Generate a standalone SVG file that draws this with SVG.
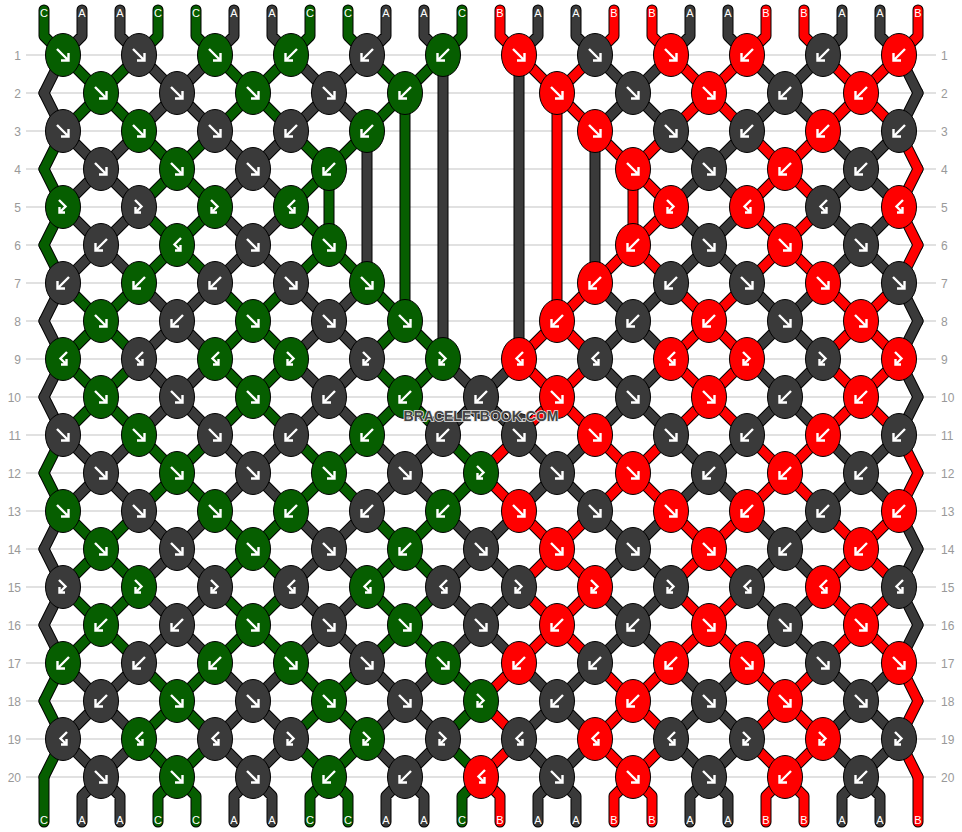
<svg xmlns="http://www.w3.org/2000/svg" xmlns:xlink="http://www.w3.org/1999/xlink" width="962" height="832" viewBox="0 0 962 832">
<style>
.grid line{stroke:#c4c4c4;stroke-width:1.2}
.rl{font-family:"Liberation Sans",Arial,sans-serif;font-size:12px;fill:#999}
.sl{font-family:"Liberation Sans",Arial,sans-serif;font-size:11px;fill:#fff;text-anchor:middle}
.o{stroke:#000;stroke-width:11}
.sg{stroke:#065e00;stroke-width:9}
.sd{stroke:#3a3a3a;stroke-width:9}
.sr{stroke:#ff0000;stroke-width:9}
.kg{fill:#065e00}
.kd{fill:#3a3a3a}
.kr{fill:#ff0000}
.wm{font-family:"Liberation Sans",Arial,sans-serif;font-weight:bold;font-size:15px;fill:#444;stroke:#e8e8e8;stroke-width:1.6;paint-order:stroke;text-anchor:middle}
</style>
<defs>
<path id="u1" d="M63 0L44 38M139 0L177 38M215 0L177 38M291 0L329 38"/>
<path id="u2" d="M63 0L101 38M139 0L101 38M215 0L253 38M291 0L253 38"/>
<path id="u3" d="M671 0L633 38M747 0L785 38M823 0L785 38M899 0L918 38"/>
<path id="u4" d="M671 0L709 38M747 0L709 38M823 0L861 38M899 0L861 38"/>
<path id="um1" d="M367 0L329 38M443 0L481 38"/>
<path id="um2" d="M367 0L405 38M443 0L405 38"/>
<path id="um3" d="M519 0L481 38M595 0L633 38"/>
<path id="um4" d="M519 0L557 38M595 0L557 38"/>
<path id="v1" d="M44 0L63 38M177 0L139 38M177 0L215 38M329 0L291 38"/>
<path id="v2" d="M101 0L63 38M101 0L139 38M253 0L215 38M253 0L291 38"/>
<path id="v3" d="M633 0L671 38M785 0L747 38M785 0L823 38M918 0L899 38"/>
<path id="v4" d="M709 0L671 38M709 0L747 38M861 0L823 38M861 0L899 38"/>
<path id="vm1" d="M329 0L367 38M481 0L443 38"/>
<path id="vm2" d="M405 0L367 38M405 0L443 38"/>
<path id="vm3" d="M481 0L519 38M633 0L595 38"/>
<path id="vm4" d="M557 0L519 38M557 0L595 38"/>
<g id="U1"><use href="#u1"/><use href="#um1"/></g>
<g id="U2"><use href="#u2"/><use href="#um2"/></g>
<g id="U3"><use href="#u3"/><use href="#um3"/></g>
<g id="U4"><use href="#u4"/><use href="#um4"/></g>
<g id="V1"><use href="#v1"/><use href="#vm1"/></g>
<g id="V2"><use href="#v2"/><use href="#vm2"/></g>
<g id="V3"><use href="#v3"/><use href="#vm3"/></g>
<g id="V4"><use href="#v4"/><use href="#vm4"/></g>
<g id="UO"><use href="#u1"/><use href="#u2"/><use href="#u3"/><use href="#u4"/></g>
<g id="VO"><use href="#v1"/><use href="#v2"/><use href="#v3"/><use href="#v4"/></g>
<g id="UA"><use href="#U1"/><use href="#U2"/><use href="#U3"/><use href="#U4"/></g>
<g id="VA"><use href="#V1"/><use href="#V2"/><use href="#V3"/><use href="#V4"/></g>
<path id="gapG" d="M367 55L405 93M443 55L405 93M405 93L405 321M405 93L367 131M367 131L329 169M329 169L329 245M329 245L367 283M367 283L405 321M405 321L367 359M405 321L443 359"/>
<path id="gapD" d="M367 55L329 93M443 55L443 359M519 55L519 359M595 55L633 93M329 93L367 131M633 93L595 131M367 131L367 283M595 131L595 283M367 283L329 321M595 283L633 321M329 321L367 359M633 321L595 359"/>
<path id="gapR" d="M519 55L557 93M595 55L557 93M557 93L557 321M557 93L595 131M595 131L633 169M633 169L633 245M633 245L595 283M595 283L557 321M557 321L519 359M557 321L595 359"/>
<path id="topG" d="M44 10V36L63 55M158 10V36L139 55M196 10V36L215 55M310 10V36L291 55M348 10V36L367 55M462 10V36L443 55"/>
<path id="topD" d="M82 10V36L63 55M120 10V36L139 55M234 10V36L215 55M272 10V36L291 55M386 10V36L367 55M424 10V36L443 55M538 10V36L519 55M576 10V36L595 55M690 10V36L671 55M728 10V36L747 55M842 10V36L823 55M880 10V36L899 55"/>
<path id="topR" d="M500 10V36L519 55M614 10V36L595 55M652 10V36L671 55M766 10V36L747 55M804 10V36L823 55M918 10V36L899 55"/>
<path id="botG" d="M44 777V822M177 777L158 796V822M177 777L196 796V822M329 777L310 796V822M329 777L348 796V822M481 777L462 796V822"/>
<path id="botD" d="M101 777L82 796V822M101 777L120 796V822M253 777L234 796V822M253 777L272 796V822M405 777L386 796V822M405 777L424 796V822M557 777L538 796V822M557 777L576 796V822M709 777L690 796V822M709 777L728 796V822M861 777L842 796V822M861 777L880 796V822"/>
<path id="botR" d="M481 777L500 796V822M633 777L614 796V822M633 777L652 796V822M785 777L766 796V822M785 777L804 796V822M918 777V822"/>
<g id="F"><ellipse rx="17.5" ry="21.5" stroke="#000" stroke-width="1"/><path d="M-6-6L5.5 5.5M5.5-2V5.5H-2" fill="none" stroke="#fff" stroke-width="2.4"/></g>
<g id="B"><ellipse rx="17.5" ry="21.5" stroke="#000" stroke-width="1"/><path d="M6-6L-5.5 5.5M-5.5-2V5.5H2" fill="none" stroke="#fff" stroke-width="2.4"/></g>
<g id="FB"><ellipse rx="17.5" ry="21.5" stroke="#000" stroke-width="1"/><path d="M-4-7L2.5-0.5L-3.5 5.5M-3.5 0V5.5H2" fill="none" stroke="#fff" stroke-width="2.4"/></g>
<g id="BF"><ellipse rx="17.5" ry="21.5" stroke="#000" stroke-width="1"/><path d="M4-7L-2.5-0.5L3.5 5.5M3.5 0V5.5H-2" fill="none" stroke="#fff" stroke-width="2.4"/></g>
</defs>
<rect width="962" height="832" fill="#fff"/>
<g class="grid">
<line x1="26" y1="55" x2="936" y2="55"/><line x1="26" y1="93" x2="936" y2="93"/><line x1="26" y1="131" x2="936" y2="131"/><line x1="26" y1="169" x2="936" y2="169"/><line x1="26" y1="207" x2="936" y2="207"/><line x1="26" y1="245" x2="936" y2="245"/><line x1="26" y1="283" x2="936" y2="283"/><line x1="26" y1="321" x2="936" y2="321"/><line x1="26" y1="359" x2="936" y2="359"/><line x1="26" y1="397" x2="936" y2="397"/><line x1="26" y1="435" x2="936" y2="435"/><line x1="26" y1="473" x2="936" y2="473"/><line x1="26" y1="511" x2="936" y2="511"/><line x1="26" y1="549" x2="936" y2="549"/><line x1="26" y1="587" x2="936" y2="587"/><line x1="26" y1="625" x2="936" y2="625"/><line x1="26" y1="663" x2="936" y2="663"/><line x1="26" y1="701" x2="936" y2="701"/><line x1="26" y1="739" x2="936" y2="739"/><line x1="26" y1="777" x2="936" y2="777"/>
</g>
<g id="row-labels" class="rl">
<g text-anchor="end">
<text x="21" y="59.5">1</text><text x="21" y="97.5">2</text><text x="21" y="135.5">3</text><text x="21" y="173.5">4</text><text x="21" y="211.5">5</text><text x="21" y="249.5">6</text><text x="21" y="287.5">7</text><text x="21" y="325.5">8</text><text x="21" y="363.5">9</text><text x="21" y="401.5">10</text><text x="21" y="439.5">11</text><text x="21" y="477.5">12</text><text x="21" y="515.5">13</text><text x="21" y="553.5">14</text><text x="21" y="591.5">15</text><text x="21" y="629.5">16</text><text x="21" y="667.5">17</text><text x="21" y="705.5">18</text><text x="21" y="743.5">19</text><text x="21" y="781.5">20</text>
</g>
<g text-anchor="start">
<text x="941" y="59.5">1</text><text x="941" y="97.5">2</text><text x="941" y="135.5">3</text><text x="941" y="173.5">4</text><text x="941" y="211.5">5</text><text x="941" y="249.5">6</text><text x="941" y="287.5">7</text><text x="941" y="325.5">8</text><text x="941" y="363.5">9</text><text x="941" y="401.5">10</text><text x="941" y="439.5">11</text><text x="941" y="477.5">12</text><text x="941" y="515.5">13</text><text x="941" y="553.5">14</text><text x="941" y="591.5">15</text><text x="941" y="629.5">16</text><text x="941" y="667.5">17</text><text x="941" y="705.5">18</text><text x="941" y="743.5">19</text><text x="941" y="781.5">20</text>
</g>
</g>
<g id="connectors" fill="none" stroke-linecap="round" stroke-linejoin="round">
<g class="o">
<use href="#topG"/><use href="#topD"/><use href="#topR"/>
<use href="#UO" y="55"/><use href="#VO" y="93"/><use href="#UO" y="131"/><use href="#VO" y="169"/><use href="#UO" y="207"/><use href="#VO" y="245"/><use href="#UO" y="283"/><use href="#VO" y="321"/>
<use href="#gapG"/><use href="#gapD"/><use href="#gapR"/>
<use href="#UA" y="359"/><use href="#VA" y="397"/><use href="#UA" y="435"/><use href="#VA" y="473"/><use href="#UA" y="511"/><use href="#VA" y="549"/><use href="#UA" y="587"/><use href="#VA" y="625"/><use href="#UA" y="663"/><use href="#VA" y="701"/><use href="#UA" y="739"/>
<use href="#botG"/><use href="#botD"/><use href="#botR"/>
</g>
<g class="sd">
<use href="#topD"/><use href="#botD"/><use href="#gapD"/>
<use href="#u1" y="55"/><use href="#u3" y="55"/>
<use href="#v1" y="93"/><use href="#v3" y="93"/>
<use href="#u2" y="131"/><use href="#u4" y="131"/>
<use href="#v2" y="169"/><use href="#v4" y="169"/>
<use href="#u2" y="207"/><use href="#u4" y="207"/>
<use href="#v2" y="245"/><use href="#v4" y="245"/>
<use href="#u1" y="283"/><use href="#u3" y="283"/>
<use href="#v1" y="321"/><use href="#v3" y="321"/>
<use href="#U1" y="359"/><use href="#U3" y="359"/>
<use href="#V1" y="397"/><use href="#V3" y="397"/>
<use href="#U2" y="435"/><use href="#U4" y="435"/>
<use href="#V2" y="473"/><use href="#V4" y="473"/>
<use href="#U1" y="511"/><use href="#U3" y="511"/>
<use href="#V1" y="549"/><use href="#V3" y="549"/>
<use href="#U1" y="587"/><use href="#U3" y="587"/>
<use href="#V1" y="625"/><use href="#V3" y="625"/>
<use href="#U2" y="663"/><use href="#U4" y="663"/>
<use href="#V2" y="701"/><use href="#V4" y="701"/>
<use href="#U2" y="739"/><use href="#U4" y="739"/>
</g>
<g class="sg">
<use href="#topG"/><use href="#botG"/><use href="#gapG"/>
<use href="#u2" y="55"/><use href="#v2" y="93"/><use href="#u1" y="131"/><use href="#v1" y="169"/><use href="#u1" y="207"/><use href="#v1" y="245"/><use href="#u2" y="283"/><use href="#v2" y="321"/>
<use href="#U2" y="359"/><use href="#V2" y="397"/><use href="#U1" y="435"/><use href="#V1" y="473"/><use href="#U2" y="511"/><use href="#V2" y="549"/><use href="#U2" y="587"/><use href="#V2" y="625"/><use href="#U1" y="663"/><use href="#V1" y="701"/><use href="#U1" y="739"/>
</g>
<g class="sr">
<use href="#topR"/><use href="#botR"/><use href="#gapR"/>
<use href="#u4" y="55"/><use href="#v4" y="93"/><use href="#u3" y="131"/><use href="#v3" y="169"/><use href="#u3" y="207"/><use href="#v3" y="245"/><use href="#u4" y="283"/><use href="#v4" y="321"/>
<use href="#U4" y="359"/><use href="#V4" y="397"/><use href="#U3" y="435"/><use href="#V3" y="473"/><use href="#U4" y="511"/><use href="#V4" y="549"/><use href="#U4" y="587"/><use href="#V4" y="625"/><use href="#U3" y="663"/><use href="#V3" y="701"/><use href="#U3" y="739"/>
</g>
</g>
<g id="string-labels" class="sl">
<text x="44" y="16.5">C</text><text x="82" y="16.5">A</text><text x="120" y="16.5">A</text><text x="158" y="16.5">C</text><text x="196" y="16.5">C</text><text x="234" y="16.5">A</text><text x="272" y="16.5">A</text><text x="310" y="16.5">C</text><text x="348" y="16.5">C</text><text x="386" y="16.5">A</text><text x="424" y="16.5">A</text><text x="462" y="16.5">C</text><text x="500" y="16.5">B</text><text x="538" y="16.5">A</text><text x="576" y="16.5">A</text><text x="614" y="16.5">B</text><text x="652" y="16.5">B</text><text x="690" y="16.5">A</text><text x="728" y="16.5">A</text><text x="766" y="16.5">B</text><text x="804" y="16.5">B</text><text x="842" y="16.5">A</text><text x="880" y="16.5">A</text><text x="918" y="16.5">B</text>
<text x="44" y="824">C</text><text x="82" y="824">A</text><text x="120" y="824">A</text><text x="158" y="824">C</text><text x="196" y="824">C</text><text x="234" y="824">A</text><text x="272" y="824">A</text><text x="310" y="824">C</text><text x="348" y="824">C</text><text x="386" y="824">A</text><text x="424" y="824">A</text><text x="462" y="824">C</text><text x="500" y="824">B</text><text x="538" y="824">A</text><text x="576" y="824">A</text><text x="614" y="824">B</text><text x="652" y="824">B</text><text x="690" y="824">A</text><text x="728" y="824">A</text><text x="766" y="824">B</text><text x="804" y="824">B</text><text x="842" y="824">A</text><text x="880" y="824">A</text><text x="918" y="824">B</text>
</g>
<g id="knots">
<g id="k1_63" class="kg"><use href="#F" x="63" y="55"/></g>
<g id="k1_139" class="kd"><use href="#F" x="139" y="55"/></g>
<g id="k1_215" class="kg"><use href="#F" x="215" y="55"/></g>
<g id="k1_291" class="kg"><use href="#B" x="291" y="55"/></g>
<g id="k1_367" class="kd"><use href="#B" x="367" y="55"/></g>
<g id="k1_443" class="kg"><use href="#B" x="443" y="55"/></g>
<g id="k1_519" class="kr"><use href="#F" x="519" y="55"/></g>
<g id="k1_595" class="kd"><use href="#F" x="595" y="55"/></g>
<g id="k1_671" class="kr"><use href="#F" x="671" y="55"/></g>
<g id="k1_747" class="kr"><use href="#B" x="747" y="55"/></g>
<g id="k1_823" class="kd"><use href="#B" x="823" y="55"/></g>
<g id="k1_899" class="kr"><use href="#B" x="899" y="55"/></g>
<g id="k2_101" class="kg"><use href="#F" x="101" y="93"/></g>
<g id="k2_177" class="kd"><use href="#F" x="177" y="93"/></g>
<g id="k2_253" class="kg"><use href="#F" x="253" y="93"/></g>
<g id="k2_329" class="kd"><use href="#F" x="329" y="93"/></g>
<g id="k2_405" class="kg"><use href="#B" x="405" y="93"/></g>
<g id="k2_557" class="kr"><use href="#F" x="557" y="93"/></g>
<g id="k2_633" class="kd"><use href="#F" x="633" y="93"/></g>
<g id="k2_709" class="kr"><use href="#F" x="709" y="93"/></g>
<g id="k2_785" class="kd"><use href="#B" x="785" y="93"/></g>
<g id="k2_861" class="kr"><use href="#B" x="861" y="93"/></g>
<g id="k3_63" class="kd"><use href="#F" x="63" y="131"/></g>
<g id="k3_139" class="kg"><use href="#F" x="139" y="131"/></g>
<g id="k3_215" class="kd"><use href="#F" x="215" y="131"/></g>
<g id="k3_291" class="kd"><use href="#B" x="291" y="131"/></g>
<g id="k3_367" class="kg"><use href="#B" x="367" y="131"/></g>
<g id="k3_595" class="kr"><use href="#F" x="595" y="131"/></g>
<g id="k3_671" class="kd"><use href="#F" x="671" y="131"/></g>
<g id="k3_747" class="kd"><use href="#B" x="747" y="131"/></g>
<g id="k3_823" class="kr"><use href="#B" x="823" y="131"/></g>
<g id="k3_899" class="kd"><use href="#B" x="899" y="131"/></g>
<g id="k4_101" class="kd"><use href="#F" x="101" y="169"/></g>
<g id="k4_177" class="kg"><use href="#F" x="177" y="169"/></g>
<g id="k4_253" class="kd"><use href="#F" x="253" y="169"/></g>
<g id="k4_329" class="kg"><use href="#B" x="329" y="169"/></g>
<g id="k4_633" class="kr"><use href="#F" x="633" y="169"/></g>
<g id="k4_709" class="kd"><use href="#F" x="709" y="169"/></g>
<g id="k4_785" class="kr"><use href="#B" x="785" y="169"/></g>
<g id="k4_861" class="kd"><use href="#B" x="861" y="169"/></g>
<g id="k5_63" class="kg"><use href="#FB" x="63" y="207"/></g>
<g id="k5_139" class="kd"><use href="#FB" x="139" y="207"/></g>
<g id="k5_215" class="kg"><use href="#FB" x="215" y="207"/></g>
<g id="k5_291" class="kg"><use href="#BF" x="291" y="207"/></g>
<g id="k5_671" class="kr"><use href="#FB" x="671" y="207"/></g>
<g id="k5_747" class="kr"><use href="#BF" x="747" y="207"/></g>
<g id="k5_823" class="kd"><use href="#BF" x="823" y="207"/></g>
<g id="k5_899" class="kr"><use href="#BF" x="899" y="207"/></g>
<g id="k6_101" class="kd"><use href="#B" x="101" y="245"/></g>
<g id="k6_177" class="kg"><use href="#BF" x="177" y="245"/></g>
<g id="k6_253" class="kd"><use href="#F" x="253" y="245"/></g>
<g id="k6_329" class="kg"><use href="#F" x="329" y="245"/></g>
<g id="k6_633" class="kr"><use href="#B" x="633" y="245"/></g>
<g id="k6_709" class="kd"><use href="#F" x="709" y="245"/></g>
<g id="k6_785" class="kr"><use href="#F" x="785" y="245"/></g>
<g id="k6_861" class="kd"><use href="#F" x="861" y="245"/></g>
<g id="k7_63" class="kd"><use href="#B" x="63" y="283"/></g>
<g id="k7_139" class="kg"><use href="#B" x="139" y="283"/></g>
<g id="k7_215" class="kd"><use href="#B" x="215" y="283"/></g>
<g id="k7_291" class="kd"><use href="#F" x="291" y="283"/></g>
<g id="k7_367" class="kg"><use href="#F" x="367" y="283"/></g>
<g id="k7_595" class="kr"><use href="#B" x="595" y="283"/></g>
<g id="k7_671" class="kd"><use href="#B" x="671" y="283"/></g>
<g id="k7_747" class="kd"><use href="#F" x="747" y="283"/></g>
<g id="k7_823" class="kr"><use href="#F" x="823" y="283"/></g>
<g id="k7_899" class="kd"><use href="#F" x="899" y="283"/></g>
<g id="k8_101" class="kg"><use href="#F" x="101" y="321"/></g>
<g id="k8_177" class="kd"><use href="#B" x="177" y="321"/></g>
<g id="k8_253" class="kg"><use href="#F" x="253" y="321"/></g>
<g id="k8_329" class="kd"><use href="#F" x="329" y="321"/></g>
<g id="k8_405" class="kg"><use href="#F" x="405" y="321"/></g>
<g id="k8_557" class="kr"><use href="#B" x="557" y="321"/></g>
<g id="k8_633" class="kd"><use href="#B" x="633" y="321"/></g>
<g id="k8_709" class="kr"><use href="#B" x="709" y="321"/></g>
<g id="k8_785" class="kd"><use href="#F" x="785" y="321"/></g>
<g id="k8_861" class="kr"><use href="#F" x="861" y="321"/></g>
<g id="k9_63" class="kg"><use href="#BF" x="63" y="359"/></g>
<g id="k9_139" class="kd"><use href="#BF" x="139" y="359"/></g>
<g id="k9_215" class="kg"><use href="#BF" x="215" y="359"/></g>
<g id="k9_291" class="kg"><use href="#FB" x="291" y="359"/></g>
<g id="k9_367" class="kd"><use href="#FB" x="367" y="359"/></g>
<g id="k9_443" class="kg"><use href="#FB" x="443" y="359"/></g>
<g id="k9_519" class="kr"><use href="#BF" x="519" y="359"/></g>
<g id="k9_595" class="kd"><use href="#BF" x="595" y="359"/></g>
<g id="k9_671" class="kr"><use href="#BF" x="671" y="359"/></g>
<g id="k9_747" class="kr"><use href="#FB" x="747" y="359"/></g>
<g id="k9_823" class="kd"><use href="#FB" x="823" y="359"/></g>
<g id="k9_899" class="kr"><use href="#FB" x="899" y="359"/></g>
<g id="k10_101" class="kg"><use href="#F" x="101" y="397"/></g>
<g id="k10_177" class="kd"><use href="#F" x="177" y="397"/></g>
<g id="k10_253" class="kg"><use href="#F" x="253" y="397"/></g>
<g id="k10_329" class="kd"><use href="#B" x="329" y="397"/></g>
<g id="k10_405" class="kg"><use href="#B" x="405" y="397"/></g>
<g id="k10_481" class="kd"><use href="#B" x="481" y="397"/></g>
<g id="k10_557" class="kr"><use href="#F" x="557" y="397"/></g>
<g id="k10_633" class="kd"><use href="#F" x="633" y="397"/></g>
<g id="k10_709" class="kr"><use href="#F" x="709" y="397"/></g>
<g id="k10_785" class="kd"><use href="#B" x="785" y="397"/></g>
<g id="k10_861" class="kr"><use href="#B" x="861" y="397"/></g>
<g id="k11_63" class="kd"><use href="#F" x="63" y="435"/></g>
<g id="k11_139" class="kg"><use href="#F" x="139" y="435"/></g>
<g id="k11_215" class="kd"><use href="#F" x="215" y="435"/></g>
<g id="k11_291" class="kd"><use href="#B" x="291" y="435"/></g>
<g id="k11_367" class="kg"><use href="#B" x="367" y="435"/></g>
<g id="k11_443" class="kd"><use href="#B" x="443" y="435"/></g>
<g id="k11_519" class="kd"><use href="#F" x="519" y="435"/></g>
<g id="k11_595" class="kr"><use href="#F" x="595" y="435"/></g>
<g id="k11_671" class="kd"><use href="#F" x="671" y="435"/></g>
<g id="k11_747" class="kd"><use href="#B" x="747" y="435"/></g>
<g id="k11_823" class="kr"><use href="#B" x="823" y="435"/></g>
<g id="k11_899" class="kd"><use href="#B" x="899" y="435"/></g>
<g id="k12_101" class="kd"><use href="#F" x="101" y="473"/></g>
<g id="k12_177" class="kg"><use href="#F" x="177" y="473"/></g>
<g id="k12_253" class="kd"><use href="#F" x="253" y="473"/></g>
<g id="k12_329" class="kg"><use href="#F" x="329" y="473"/></g>
<g id="k12_405" class="kd"><use href="#F" x="405" y="473"/></g>
<g id="k12_481" class="kg"><use href="#FB" x="481" y="473"/></g>
<g id="k12_557" class="kd"><use href="#F" x="557" y="473"/></g>
<g id="k12_633" class="kr"><use href="#F" x="633" y="473"/></g>
<g id="k12_709" class="kd"><use href="#B" x="709" y="473"/></g>
<g id="k12_785" class="kr"><use href="#B" x="785" y="473"/></g>
<g id="k12_861" class="kd"><use href="#B" x="861" y="473"/></g>
<g id="k13_63" class="kg"><use href="#F" x="63" y="511"/></g>
<g id="k13_139" class="kd"><use href="#F" x="139" y="511"/></g>
<g id="k13_215" class="kg"><use href="#F" x="215" y="511"/></g>
<g id="k13_291" class="kg"><use href="#B" x="291" y="511"/></g>
<g id="k13_367" class="kd"><use href="#B" x="367" y="511"/></g>
<g id="k13_443" class="kg"><use href="#B" x="443" y="511"/></g>
<g id="k13_519" class="kr"><use href="#F" x="519" y="511"/></g>
<g id="k13_595" class="kd"><use href="#F" x="595" y="511"/></g>
<g id="k13_671" class="kr"><use href="#F" x="671" y="511"/></g>
<g id="k13_747" class="kr"><use href="#B" x="747" y="511"/></g>
<g id="k13_823" class="kd"><use href="#B" x="823" y="511"/></g>
<g id="k13_899" class="kr"><use href="#B" x="899" y="511"/></g>
<g id="k14_101" class="kg"><use href="#F" x="101" y="549"/></g>
<g id="k14_177" class="kd"><use href="#F" x="177" y="549"/></g>
<g id="k14_253" class="kg"><use href="#F" x="253" y="549"/></g>
<g id="k14_329" class="kd"><use href="#F" x="329" y="549"/></g>
<g id="k14_405" class="kg"><use href="#B" x="405" y="549"/></g>
<g id="k14_481" class="kd"><use href="#F" x="481" y="549"/></g>
<g id="k14_557" class="kr"><use href="#F" x="557" y="549"/></g>
<g id="k14_633" class="kd"><use href="#F" x="633" y="549"/></g>
<g id="k14_709" class="kr"><use href="#F" x="709" y="549"/></g>
<g id="k14_785" class="kd"><use href="#B" x="785" y="549"/></g>
<g id="k14_861" class="kr"><use href="#B" x="861" y="549"/></g>
<g id="k15_63" class="kd"><use href="#FB" x="63" y="587"/></g>
<g id="k15_139" class="kg"><use href="#FB" x="139" y="587"/></g>
<g id="k15_215" class="kd"><use href="#FB" x="215" y="587"/></g>
<g id="k15_291" class="kd"><use href="#BF" x="291" y="587"/></g>
<g id="k15_367" class="kg"><use href="#BF" x="367" y="587"/></g>
<g id="k15_443" class="kd"><use href="#BF" x="443" y="587"/></g>
<g id="k15_519" class="kd"><use href="#FB" x="519" y="587"/></g>
<g id="k15_595" class="kr"><use href="#FB" x="595" y="587"/></g>
<g id="k15_671" class="kd"><use href="#FB" x="671" y="587"/></g>
<g id="k15_747" class="kd"><use href="#BF" x="747" y="587"/></g>
<g id="k15_823" class="kr"><use href="#BF" x="823" y="587"/></g>
<g id="k15_899" class="kd"><use href="#BF" x="899" y="587"/></g>
<g id="k16_101" class="kg"><use href="#B" x="101" y="625"/></g>
<g id="k16_177" class="kd"><use href="#B" x="177" y="625"/></g>
<g id="k16_253" class="kg"><use href="#F" x="253" y="625"/></g>
<g id="k16_329" class="kd"><use href="#F" x="329" y="625"/></g>
<g id="k16_405" class="kg"><use href="#F" x="405" y="625"/></g>
<g id="k16_481" class="kd"><use href="#F" x="481" y="625"/></g>
<g id="k16_557" class="kr"><use href="#B" x="557" y="625"/></g>
<g id="k16_633" class="kd"><use href="#B" x="633" y="625"/></g>
<g id="k16_709" class="kr"><use href="#F" x="709" y="625"/></g>
<g id="k16_785" class="kd"><use href="#F" x="785" y="625"/></g>
<g id="k16_861" class="kr"><use href="#F" x="861" y="625"/></g>
<g id="k17_63" class="kg"><use href="#B" x="63" y="663"/></g>
<g id="k17_139" class="kd"><use href="#B" x="139" y="663"/></g>
<g id="k17_215" class="kg"><use href="#B" x="215" y="663"/></g>
<g id="k17_291" class="kg"><use href="#F" x="291" y="663"/></g>
<g id="k17_367" class="kd"><use href="#F" x="367" y="663"/></g>
<g id="k17_443" class="kg"><use href="#F" x="443" y="663"/></g>
<g id="k17_519" class="kr"><use href="#B" x="519" y="663"/></g>
<g id="k17_595" class="kd"><use href="#B" x="595" y="663"/></g>
<g id="k17_671" class="kr"><use href="#B" x="671" y="663"/></g>
<g id="k17_747" class="kr"><use href="#F" x="747" y="663"/></g>
<g id="k17_823" class="kd"><use href="#F" x="823" y="663"/></g>
<g id="k17_899" class="kr"><use href="#F" x="899" y="663"/></g>
<g id="k18_101" class="kd"><use href="#B" x="101" y="701"/></g>
<g id="k18_177" class="kg"><use href="#F" x="177" y="701"/></g>
<g id="k18_253" class="kd"><use href="#F" x="253" y="701"/></g>
<g id="k18_329" class="kg"><use href="#F" x="329" y="701"/></g>
<g id="k18_405" class="kd"><use href="#F" x="405" y="701"/></g>
<g id="k18_481" class="kg"><use href="#FB" x="481" y="701"/></g>
<g id="k18_557" class="kd"><use href="#B" x="557" y="701"/></g>
<g id="k18_633" class="kr"><use href="#B" x="633" y="701"/></g>
<g id="k18_709" class="kd"><use href="#F" x="709" y="701"/></g>
<g id="k18_785" class="kr"><use href="#F" x="785" y="701"/></g>
<g id="k18_861" class="kd"><use href="#F" x="861" y="701"/></g>
<g id="k19_63" class="kd"><use href="#BF" x="63" y="739"/></g>
<g id="k19_139" class="kg"><use href="#BF" x="139" y="739"/></g>
<g id="k19_215" class="kd"><use href="#BF" x="215" y="739"/></g>
<g id="k19_291" class="kd"><use href="#FB" x="291" y="739"/></g>
<g id="k19_367" class="kg"><use href="#FB" x="367" y="739"/></g>
<g id="k19_443" class="kd"><use href="#FB" x="443" y="739"/></g>
<g id="k19_519" class="kd"><use href="#BF" x="519" y="739"/></g>
<g id="k19_595" class="kr"><use href="#BF" x="595" y="739"/></g>
<g id="k19_671" class="kd"><use href="#BF" x="671" y="739"/></g>
<g id="k19_747" class="kd"><use href="#FB" x="747" y="739"/></g>
<g id="k19_823" class="kr"><use href="#FB" x="823" y="739"/></g>
<g id="k19_899" class="kd"><use href="#FB" x="899" y="739"/></g>
<g id="k20_101" class="kd"><use href="#F" x="101" y="777"/></g>
<g id="k20_177" class="kg"><use href="#F" x="177" y="777"/></g>
<g id="k20_253" class="kd"><use href="#F" x="253" y="777"/></g>
<g id="k20_329" class="kg"><use href="#B" x="329" y="777"/></g>
<g id="k20_405" class="kd"><use href="#B" x="405" y="777"/></g>
<g id="k20_481" class="kr"><use href="#BF" x="481" y="777"/></g>
<g id="k20_557" class="kd"><use href="#F" x="557" y="777"/></g>
<g id="k20_633" class="kr"><use href="#F" x="633" y="777"/></g>
<g id="k20_709" class="kd"><use href="#F" x="709" y="777"/></g>
<g id="k20_785" class="kr"><use href="#B" x="785" y="777"/></g>
<g id="k20_861" class="kd"><use href="#B" x="861" y="777"/></g>
</g>
<text class="wm" x="481" y="420.5" textLength="155" lengthAdjust="spacingAndGlyphs">BRACELETBOOK.COM</text>
</svg>
